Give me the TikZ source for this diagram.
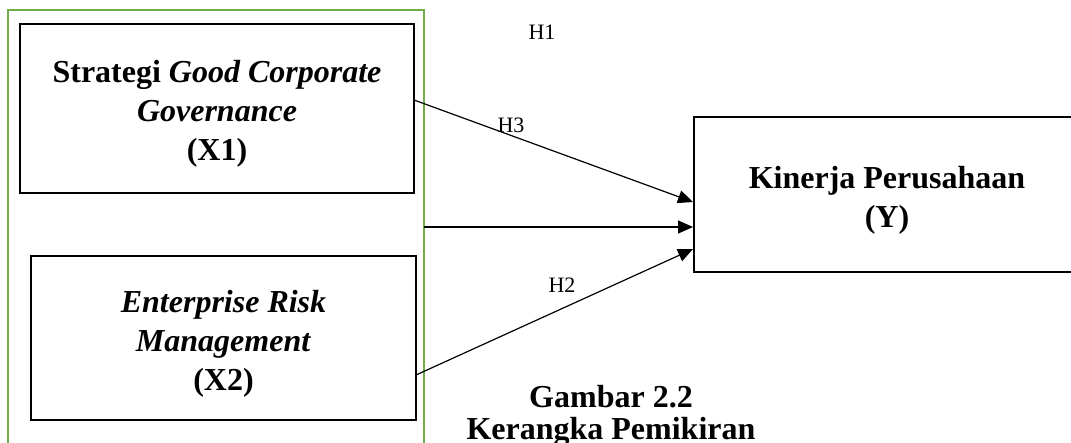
\documentclass[tikz,border=0pt]{standalone}
\usepackage{fontspec}
\setmainfont{Liberation Serif}
\usetikzlibrary{arrows.meta}
\definecolor{frameg}{RGB}{112,173,71}
\newcommand{\topstrut}{\rule{0pt}{33pt}}
\tikzset{
  box/.style={draw=black, line width=2pt, align=center, inner sep=0pt, font=\fontsize{32}{39}\selectfont\bfseries},
  conn/.style={draw=black, line width=1.2pt, -{Triangle[length=15pt,width=13pt]}},
  hlab/.style={font=\fontsize{22}{26}\selectfont, inner sep=0pt},
  captext/.style={font=\fontsize{32}{32}\selectfont\bfseries, align=center, inner sep=0pt}
}
\begin{document}
\begin{tikzpicture}[x=1pt,y=-1pt]
\useasboundingbox (0,0) rectangle (1071,443);
\clip (0,0) rectangle (1071,443);
\fill[white] (0,0) rectangle (1071,443);
\draw[frameg, line width=2.5pt] (8,10) rectangle (424,460);
\node[box, minimum width=394pt, minimum height=169pt] (x1) at (217,108.5) {\topstrut Strategi \textit{Good Corporate}\\\textit{Governance}\\(X1)};
\node[box, minimum width=385pt, minimum height=164pt] (x2) at (223.5,338) {\topstrut\textit{Enterprise Risk}\\\textit{Management}\\(X2)};
\node[box, minimum width=386pt, minimum height=155pt] (y) at (887,194.5) {\topstrut Kinerja Perusahaan\\(Y)};
\coordinate (a1) at (414,100);
\coordinate (a2) at (424,227);
\coordinate (a3) at (416,375);
\coordinate (e1) at (693,202);
\coordinate (e2) at (693,227);
\coordinate (e3) at (693,249);
\draw[conn] (a1) -- (e1);
\draw[conn] (a2) -- (e2);
\draw[conn] (a3) -- (e3);
\node[hlab] (h1) at (542,32) {H1};
\node[hlab] (h3) at (511,125) {H3};
\node[hlab] (h2) at (562,285) {H2};
\node[captext] (gcap) at (611,416) {Gambar 2.2\\Kerangka Pemikiran};
\end{tikzpicture}
\end{document}
